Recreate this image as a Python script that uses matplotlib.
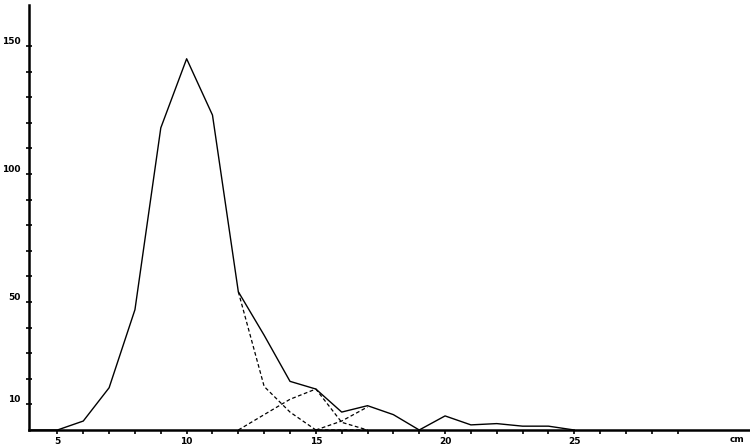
import numpy as np
import matplotlib
matplotlib.use("Agg")
import matplotlib.pyplot as plt

# length classes (cm) and counts
cm = [4, 5, 6, 7, 8, 9, 10, 11, 12, 13, 14, 15, 16, 17, 18, 19, 20, 21, 22, 23, 24, 25]
total = [0, 0, 3.5, 16.5, 47, 118, 145, 123, 54, 37, 19, 16, 7, 9.5, 6, 0, 5.5, 2, 2.5, 1.5, 1.5, 0]

# dashed components (age groups)
cm_g1 = [12, 13, 14, 15, 16, 17]
g1 = [54, 17, 7, 0, 0, 0]
cm_g2 = [12, 13, 14, 15, 16, 17]
g2 = [0, 6, 12, 16, 3, 0]
cm_g3 = [15, 16, 17]
g3 = [0, 3.5, 9]

xticks_major = [5, 10, 15, 20, 25]
yticks_major = [10, 50, 100, 150]

fig = plt.figure(figsize=(7.5, 4.48), dpi=100)
ax = fig.add_axes([29/750, 18/448, 721/750, 425/448])

ax.plot(cm, total, color="black", lw=1.0)
ax.plot(cm_g1, g1, color="black", lw=0.9, ls=(0, (3, 2)))
ax.plot(cm_g2, g2, color="black", lw=0.9, ls=(0, (3, 2)))
ax.plot(cm_g3, g3, color="black", lw=0.9, ls=(0, (3, 2)))

ax.set_xlim(3.9, 31.8)
ax.set_ylim(0, 166)

for s in ["top", "right"]:
    ax.spines[s].set_visible(False)
ax.spines["left"].set_linewidth(1.8)
ax.spines["bottom"].set_linewidth(1.8)

ax.set_xticks(xticks_major)
ax.set_xticks(np.arange(5, 30), minor=True)
ax.set_yticks(yticks_major)
ax.set_yticks(np.arange(10, 160, 10), minor=True)

ax.tick_params(axis="x", which="both", direction="out", length=3, width=1.2, pad=2, labelsize=6.5)
ax.tick_params(axis="y", which="both", direction="inout", length=4, width=1.2, pad=4, labelsize=6.5)

for lab in ax.get_xticklabels():
    lab.set_fontweight("bold")
for lab in ax.get_yticklabels():
    lab.set_fontweight("bold")
    lab.set_verticalalignment("bottom")

ax.text(31.3, -2, "cm", ha="center", va="top", fontsize=6.5, fontweight="bold", clip_on=False)

fig.savefig("out.png", dpi=100)
